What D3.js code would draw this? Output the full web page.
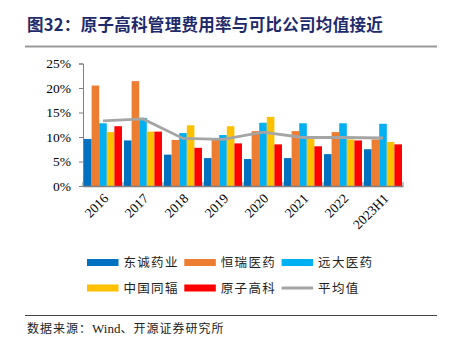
<!DOCTYPE html>
<html>
<head>
<meta charset="utf-8">
<script src="https://cdn.jsdelivr.net/npm/d3@7"></script>
<style>
  body { margin: 0; background: #fff; }
  svg { display: block; }
</style>
</head>
<body>
<div class="container"></div>
<script>
// chart data
var years = ['2016', '2017', '2018', '2019', '2020', '2021', '2022', '2023H1'];
var companies = ['东诚药业', '恒瑞医药', '远大医药', '中国同辐', '原子高科'];
var dongcheng = [9.6, 9.3, 6.4, 5.7, 5.5, 5.7, 6.5, 7.5];
var hengrui = [20.5, 21.4, 9.4, 9.5, 11.2, 11.2, 11.0, 9.5];
var yuanda = [12.8, 13.9, 10.8, 10.4, 12.9, 12.8, 12.8, 12.7];
var tongfu = [11.0, 11.1, 12.4, 12.2, 14.1, 9.7, 9.5, 9.0];
var yuanzi = [12.2, 11.1, 7.8, 8.7, 8.5, 8.1, 9.3, 8.5];
var average = [13.3, 13.7, 9.7, 9.5, 11.0, 9.9, 9.9, 9.8];
var yTicks = [0, 5, 10, 15, 20, 25];

var _colors = ['#0070C0', '#ED7D31', '#00B0F0', '#FFC000', '#FF0000'];
var _avgColor = '#A5A5A5';
var _serif = '"Liberation Serif", "Times New Roman", serif';
var _cjk = '"Noto Sans CJK SC", sans-serif';

var translate = function (x, y) {
    return 'translate(' + x + ',' + y + ')';
};

var drawChart = function () {
    var WIDTH = 452, HEIGHT = 350;
    var svg = d3.select('.container').append('svg')
        .attr('width', WIDTH).attr('height', HEIGHT);

    // title + rule
    svg.append('text')
        .attr('x', 27).attr('y', 31)
        .attr('fill', '#1F2A6B')
        .style('font-family', _cjk)
        .style('font-weight', 'bold')
        .style('font-size', '16.5px')
        .style('letter-spacing', '0.3px')
        .text('图32：原子高科管理费用率与可比公司均值接近');
    svg.append('line')
        .attr('x1', 25).attr('x2', 437).attr('y1', 46.5).attr('y2', 46.5)
        .attr('stroke', '#9A9A9A').attr('stroke-width', 2);

    var left = 83, right = 403, top = 63.5, bottom = 186;
    var x = d3.scaleBand().domain(years).range([left, right]).paddingInner(0).paddingOuter(0);
    var y = d3.scaleLinear().domain([0, 25]).range([bottom, top]);
    var xInner = d3.scaleBand().domain(companies).range([0, x.bandwidth()]).paddingOuter(0.135);

    var series = [dongcheng, hengrui, yuanda, tongfu, yuanzi];

    // bars
    companies.forEach(function (c, k) {
        svg.append('g').selectAll('rect')
            .data(series[k])
            .enter().append('rect')
            .attr('x', function (d, i) { return x(years[i]) + xInner(c); })
            .attr('width', xInner.bandwidth())
            .attr('y', function (d) { return y(d); })
            .attr('height', function (d) { return bottom - y(d); })
            .attr('fill', _colors[k]);
    });

    // average line
    var line = d3.line()
        .x(function (d, i) { return x(years[i]) + x.bandwidth() / 2; })
        .y(function (d) { return y(d); });
    svg.append('path')
        .datum(average)
        .attr('d', line)
        .attr('fill', 'none')
        .attr('stroke', _avgColor)
        .attr('stroke-width', 2.8);

    // y axis
    var yAxis = d3.axisLeft(y).tickValues(yTicks).tickSize(4).tickPadding(8)
        .tickFormat(function (d) { return d + '%'; });
    var gy = svg.append('g').attr('transform', translate(left, 0)).call(yAxis);
    gy.select('.domain').attr('stroke', '#7F7F7F').attr('stroke-width', 1);
    gy.selectAll('.tick line').attr('stroke', '#7F7F7F');
    gy.selectAll('text')
        .style('font-family', _serif).style('font-size', '13.5px').attr('fill', '#000');

    // x axis
    var xAxis = d3.axisBottom(x).tickSize(0).tickFormat('');
    var gx = svg.append('g').attr('transform', translate(0, bottom)).call(xAxis);
    gx.select('.domain').attr('stroke', '#7F7F7F').attr('stroke-width', 1.5);
    // category boundary ticks
    svg.append('g').selectAll('line')
        .data(years.concat(['end']))
        .enter().append('line')
        .attr('x1', function (d, i) { return left + i * x.bandwidth(); })
        .attr('x2', function (d, i) { return left + i * x.bandwidth(); })
        .attr('y1', bottom - 4).attr('y2', bottom)
        .attr('stroke', '#7F7F7F');

    svg.append('g').selectAll('text')
        .data(years)
        .enter().append('text')
        .attr('transform', function (d) {
            return translate(x(d) + x.bandwidth() / 2 + 3, bottom + 10) + ' rotate(-45)';
        })
        .attr('text-anchor', 'end')
        .attr('dy', '0.35em')
        .style('font-family', _serif).style('font-size', '13.5px')
        .text(function (d) { return d; });

    // legend
    var legendItems = companies.concat(['平均值']);
    var lg = svg.append('g');
    legendItems.forEach(function (name, i) {
        var col = i % 3, row = Math.floor(i / 3);
        var lx = 87 + col * 97.3, ly = 262.5 + row * 25.5;
        if (i < 5) {
            lg.append('rect').attr('x', lx).attr('y', ly - 3.5)
                .attr('width', 31.5).attr('height', 7).attr('fill', _colors[i]);
        } else {
            lg.append('line').attr('x1', lx).attr('x2', lx + 31.5)
                .attr('y1', ly).attr('y2', ly)
                .attr('stroke', _avgColor).attr('stroke-width', 3);
        }
        lg.append('text').attr('x', lx + 36.5).attr('y', ly)
            .attr('dy', '0.38em')
            .style('font-family', _cjk).style('font-size', '12.5px')
            .style('letter-spacing', '1.3px')
            .attr('fill', '#222')
            .text(name);
    });

    // source
    svg.append('line')
        .attr('x1', 25).attr('x2', 437).attr('y1', 315.5).attr('y2', 315.5)
        .attr('stroke', '#444').attr('stroke-width', 1);
    var src = svg.append('text').attr('x', 27).attr('y', 333)
        .style('font-size', '12px').attr('fill', '#222');
    src.append('tspan').style('font-family', _cjk).style('letter-spacing', '1px').text('数据来源：');
    src.append('tspan').style('font-family', _serif).style('font-size', '13px').text('Wind');
    src.append('tspan').style('font-family', _cjk).style('letter-spacing', '1px').text('、开源证券研究所');
};

window.onload = drawChart;
</script>
</body>
</html>
